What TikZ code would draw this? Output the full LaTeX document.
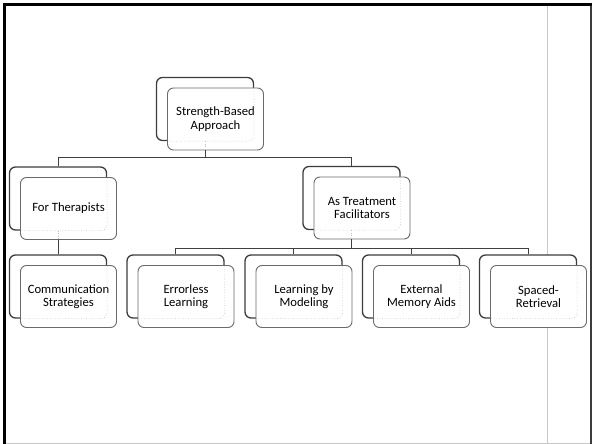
\documentclass[tikz,border=0pt]{standalone}
\usepackage{fontspec}
\setmainfont{Carlito}
\usetikzlibrary{calc}

\definecolor{edgedark}{HTML}{3C3C3C}
\definecolor{edgemid}{HTML}{6A6A6A}
\definecolor{ghostgray}{HTML}{BDBDBD}
\definecolor{linkgray}{HTML}{404040}
\definecolor{rulegray}{HTML}{C8C8C8}

\tikzset{
  backbox/.style={draw=edgedark, line width=1.3bp, fill=white, rounded corners=6bp,
    minimum width=97bp, minimum height=63bp, inner sep=0pt},
  frontbox/.style={draw=edgemid, line width=0.9bp, fill=white, rounded corners=6bp,
    minimum width=96bp, minimum height=62bp, inner sep=2bp, align=center,
    font=\fontsize{12.7}{13.6}\selectfont},
  ghost/.style={draw=ghostgray, line width=0.6bp, dotted},
  link/.style={draw=linkgray, line width=1bp},
  heavyrule/.style={draw=black, line width=3bp},
  lightrule/.style={draw=rulegray, line width=1bp},
}

% a stacked pair of rounded boxes: #1 name, #2/#3 centre of the back box, #4 label
\newcommand\stackbox[4]{%
  \node[backbox] (#1b) at (#2,#3) {};
  \node[frontbox] (#1) at ($(#1b)+(10.5,10)$) {#4};
  \begin{scope}
    \clip[rounded corners=6bp] (#1.south west) rectangle (#1.north east);
    \draw[ghost, rounded corners=6bp] (#1b.south west) rectangle (#1b.north east);
  \end{scope}
}

\begin{document}
\begin{tikzpicture}[x=1bp, y=-1bp]
  \useasboundingbox (0,0) rectangle (592,444);

  % page frame
  \draw[lightrule] (547,6) -- (547,444);
  \draw[lightrule] (6,443.5) -- (592,443.5);
  \draw[draw=edgedark, line width=1.5bp] (590.8,3) -- (590.8,444);
  \draw[heavyrule] (3,4.5) -- (592,4.5);
  \draw[heavyrule] (4.5,3) -- (4.5,444);

  % boxes
  \stackbox{root}{205}{109}{Strength-Based\\Approach}
  \stackbox{ft}{58}{198.5}{For Therapists}
  \stackbox{tf}{351.5}{198}{As Treatment\\Facilitators}
  \stackbox{comm}{58}{286.5}{Communication\\Strategies}
  \stackbox{err}{175.5}{286.5}{Errorless\\Learning}
  \stackbox{model}{293.5}{286.5}{Learning by\\Modeling}
  \stackbox{ext}{411}{286.5}{External\\Memory Aids}
  \stackbox{spaced}{528}{286.5}{Spaced-\\Retrieval}

  % connectors, hidden parts shown dotted through the front boxes
  \draw[ghost] (rootb.south) -- (rootb.south |- root.south);
  \draw[ghost] (ftb.south) -- (ftb.south |- ft.south);
  \draw[ghost] (tfb.south) -- (tfb.south |- tf.south);

  \draw[link] (rootb.south |- root.south) -- ++(0,7) -| (ftb.north);
  \draw[link] (rootb.south |- root.south) -- ++(0,7) -| (tfb.north);
  \draw[link] (ftb.south |- ft.south) -- (commb.north);
  \draw[link] (tfb.south |- tf.south) -- ++(0,9) -| (errb.north);
  \draw[link] (tfb.south |- tf.south) -- ++(0,9) -| (modelb.north);
  \draw[link] (tfb.south |- tf.south) -- ++(0,9) -| (extb.north);
  \draw[link] (tfb.south |- tf.south) -- ++(0,9) -| (spacedb.north);
\end{tikzpicture}
\end{document}
